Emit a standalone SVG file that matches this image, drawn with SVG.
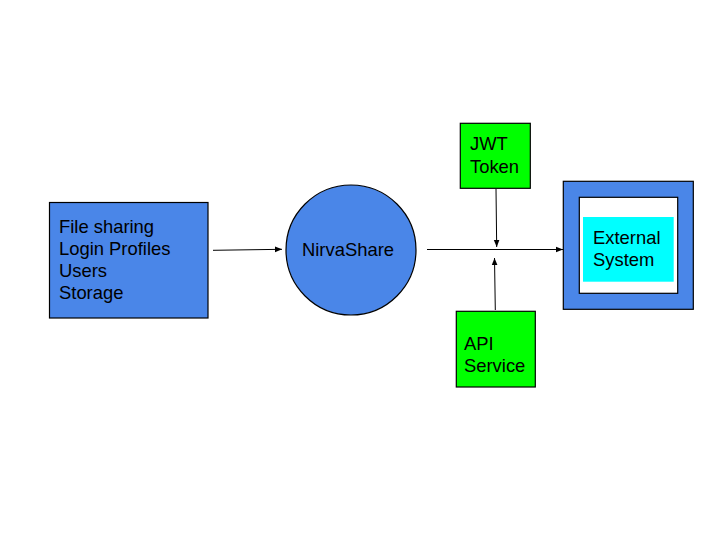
<svg xmlns="http://www.w3.org/2000/svg" width="720" height="540" viewBox="0 0 720 540">
<style>
.t{font-family:"Liberation Sans",Arial,sans-serif;font-size:18.4px;fill:#000}
.blue{fill:#4a86e8;stroke:#000;stroke-width:1.2}
.green{fill:#00ff00;stroke:#000;stroke-width:1.2}
.c{fill:none;stroke:#000;stroke-width:1;marker-end:url(#ah)}
</style>
<defs>
<marker id="ah" viewBox="0 0 10 10" refX="10" refY="5" markerWidth="7" markerHeight="7" markerUnits="userSpaceOnUse" orient="auto">
<path d="M0,1 L10,5 L0,9 z" fill="#000"/>
</marker>
</defs>
<rect width="720" height="540" fill="#fff"/>
<g id="connectors">
<line class="c" x1="213" y1="250.3" x2="282" y2="249.3"/>
<line class="c" x1="427" y1="249.5" x2="563" y2="249.5"/>
<line class="c" x1="496" y1="189" x2="496.7" y2="247"/>
<line class="c" x1="495.3" y1="310" x2="494.5" y2="258"/>
</g>
<g id="sources">
<rect class="blue" x="49.5" y="202.5" width="158.5" height="115.5"/>
<text class="t" x="59" y="232.5">File sharing</text>
<text class="t" x="59" y="254.8">Login Profiles</text>
<text class="t" x="59" y="277.1">Users</text>
<text class="t" x="59" y="299.4">Storage</text>
</g>
<g id="nirvashare">
<circle class="blue" cx="351" cy="250" r="65"/>
<text class="t" x="348" y="255.5" text-anchor="middle">NirvaShare</text>
</g>
<g id="jwt">
<rect class="green" x="460.3" y="123.3" width="70" height="65"/>
<text class="t" x="470" y="150">JWT</text>
<text class="t" x="470" y="172.5">Token</text>
</g>
<g id="api">
<rect class="green" x="456.3" y="311.3" width="79" height="75.7"/>
<text class="t" x="464" y="350">API</text>
<text class="t" x="464" y="372">Service</text>
</g>
<g id="external">
<rect class="blue" x="563.3" y="181.3" width="130" height="128"/>
<rect x="579.3" y="197.3" width="98.4" height="96" fill="#fff" stroke="#000" stroke-width="1.2"/>
<rect x="583" y="217" width="90.7" height="64.7" fill="#00ffff"/>
<text class="t" x="593" y="243.5">External</text>
<text class="t" x="593" y="266">System</text>
</g>
</svg>
